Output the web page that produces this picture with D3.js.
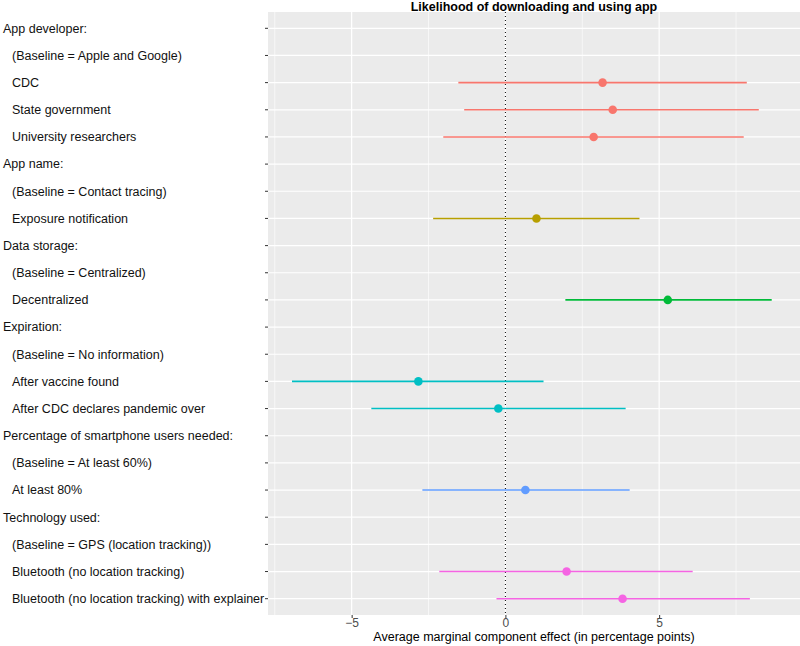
<!DOCTYPE html>
<html>
<head>
<meta charset="utf-8">
<script src="https://cdn.jsdelivr.net/npm/d3@7"></script>
<style>
  body { margin: 0; background: #fff; }
  text { font-family: "Liberation Sans", Arial, sans-serif; }
</style>
</head>
<body>
<script>
// rows from top to bottom
let labels = [
    "App developer:",
    "(Baseline = Apple and Google)",
    "CDC",
    "State government",
    "University researchers",
    "App name:",
    "(Baseline = Contact tracing)",
    "Exposure notification",
    "Data storage:",
    "(Baseline = Centralized)",
    "Decentralized",
    "Expiration:",
    "(Baseline = No information)",
    "After vaccine found",
    "After CDC declares pandemic over",
    "Percentage of smartphone users needed:",
    "(Baseline = At least 60%)",
    "At least 80%",
    "Technology used:",
    "(Baseline = GPS (location tracking))",
    "Bluetooth (no location tracking)",
    "Bluetooth (no location tracking) with explainer"
];
let isHeader = [1,0,0,0,0, 1,0,0, 1,0,0, 1,0,0,0, 1,0,0, 1,0,0,0];

// estimates (null = no estimate for that row)
let estimate = [null, null, 3.16, 3.49, 2.87, null, null, 1.01, null, null, 5.28,
    null, null, -2.83, -0.23, null, null, 0.65, null, null, 1.99, 3.81];
let lower = [null, null, -1.53, -1.34, -2.02, null, null, -2.35, null, null, 1.95,
    null, null, -6.94, -4.36, null, null, -2.70, null, null, -2.15, -0.29];
let upper = [null, null, 7.85, 8.24, 7.75, null, null, 4.36, null, null, 8.66,
    null, null, 1.24, 3.91, null, null, 4.04, null, null, 6.09, 7.95];
let group = [0,0,0,0,0, 1,1,1, 2,2,2, 3,3,3,3, 4,4,4, 5,5,5,5];
let groupColors = ["#F8766D", "#B79F00", "#00BA38", "#00BFC4", "#619CFF", "#F564E3"];

let xTicks = [-5, 0, 5];
let xMinor = [-7.5, -2.5, 2.5, 7.5];

let margin = { top: 12, right: 0, bottom: 31, left: 268 };
let width = 800, height = 646;
let plotW = width - margin.left - margin.right;
let plotH = height - margin.top - margin.bottom;

let svg = d3.select("body").append("svg")
    .attr("width", width)
    .attr("height", height);

let x = d3.scaleLinear().domain([-7.72, 9.58]).range([0, plotW]);
let y = d3.scalePoint().domain(d3.range(labels.length)).range([0, plotH]).padding(0.6);

let g = svg.append("g")
    .attr("transform", "translate(" + margin.left + "," + margin.top + ")");

g.append("rect")
    .attr("width", plotW)
    .attr("height", plotH)
    .attr("fill", "#EBEBEB");

// minor grid
g.selectAll(".minor")
    .data(xMinor)
    .enter().append("line")
    .attr("x1", d => x(d)).attr("x2", d => x(d))
    .attr("y1", 0).attr("y2", plotH)
    .attr("stroke", "#fff").attr("stroke-width", 0.6);

// major grid
g.selectAll(".vmajor")
    .data(xTicks)
    .enter().append("line")
    .attr("x1", d => x(d)).attr("x2", d => x(d))
    .attr("y1", 0).attr("y2", plotH)
    .attr("stroke", "#fff").attr("stroke-width", 1.2);

g.selectAll(".hmajor")
    .data(d3.range(labels.length))
    .enter().append("line")
    .attr("x1", 0).attr("x2", plotW)
    .attr("y1", d => y(d)).attr("y2", d => y(d))
    .attr("stroke", "#fff").attr("stroke-width", 1.2);

// zero reference
g.append("line")
    .attr("x1", x(0)).attr("x2", x(0))
    .attr("y1", 0).attr("y2", plotH)
    .attr("stroke", "#000")
    .attr("stroke-width", 1)
    .attr("stroke-dasharray", "1,3");

let rows = d3.range(labels.length).filter(i => estimate[i] !== null);

g.selectAll(".ci")
    .data(rows)
    .enter().append("line")
    .attr("x1", i => x(lower[i])).attr("x2", i => x(upper[i]))
    .attr("y1", i => y(i)).attr("y2", i => y(i))
    .attr("stroke", i => groupColors[group[i]])
    .attr("stroke-width", 1.6);

g.selectAll(".pt")
    .data(rows)
    .enter().append("circle")
    .attr("cx", i => x(estimate[i]))
    .attr("cy", i => y(i))
    .attr("r", 4.3)
    .attr("fill", i => groupColors[group[i]]);

// x axis
let xAxis = g.append("g")
    .attr("transform", "translate(0," + plotH + ")")
    .call(d3.axisBottom(x).tickValues(xTicks).tickSize(3).tickSizeOuter(0)
        .tickFormat(d => d < 0 ? "\u2212" + Math.abs(d) : d));
xAxis.select(".domain").remove();
xAxis.selectAll("line").attr("stroke", "#333");
xAxis.selectAll("text")
    .attr("fill", "#4D4D4D")
    .style("font-size", "12px")
    .attr("dy", "0.71em")
    .attr("y", 3);

// y axis ticks
g.selectAll(".ytick")
    .data(d3.range(labels.length))
    .enter().append("line")
    .attr("x1", -3).attr("x2", 0)
    .attr("y1", d => y(d)).attr("y2", d => y(d))
    .attr("stroke", "#333");

svg.selectAll(".ylab")
    .data(labels)
    .enter().append("text")
    .attr("x", (d, i) => isHeader[i] ? 3 : 12)
    .attr("y", (d, i) => margin.top + y(i))
    .attr("dy", "0.35em")
    .style("font-size", "12.5px")
    .attr("fill", "#111")
    .text(d => d);

svg.append("text")
    .attr("x", margin.left + plotW / 2)
    .attr("y", 641)
    .attr("text-anchor", "middle")
    .style("font-size", "12.5px")
    .attr("fill", "#000")
    .text("Average marginal component effect (in percentage points)");

svg.append("text")
    .attr("x", margin.left + plotW / 2)
    .attr("y", 11)
    .attr("text-anchor", "middle")
    .style("font-size", "12.5px")
    .style("font-weight", "bold")
    .attr("fill", "#000")
    .text("Likelihood of downloading and using app");
</script>
</body>
</html>
